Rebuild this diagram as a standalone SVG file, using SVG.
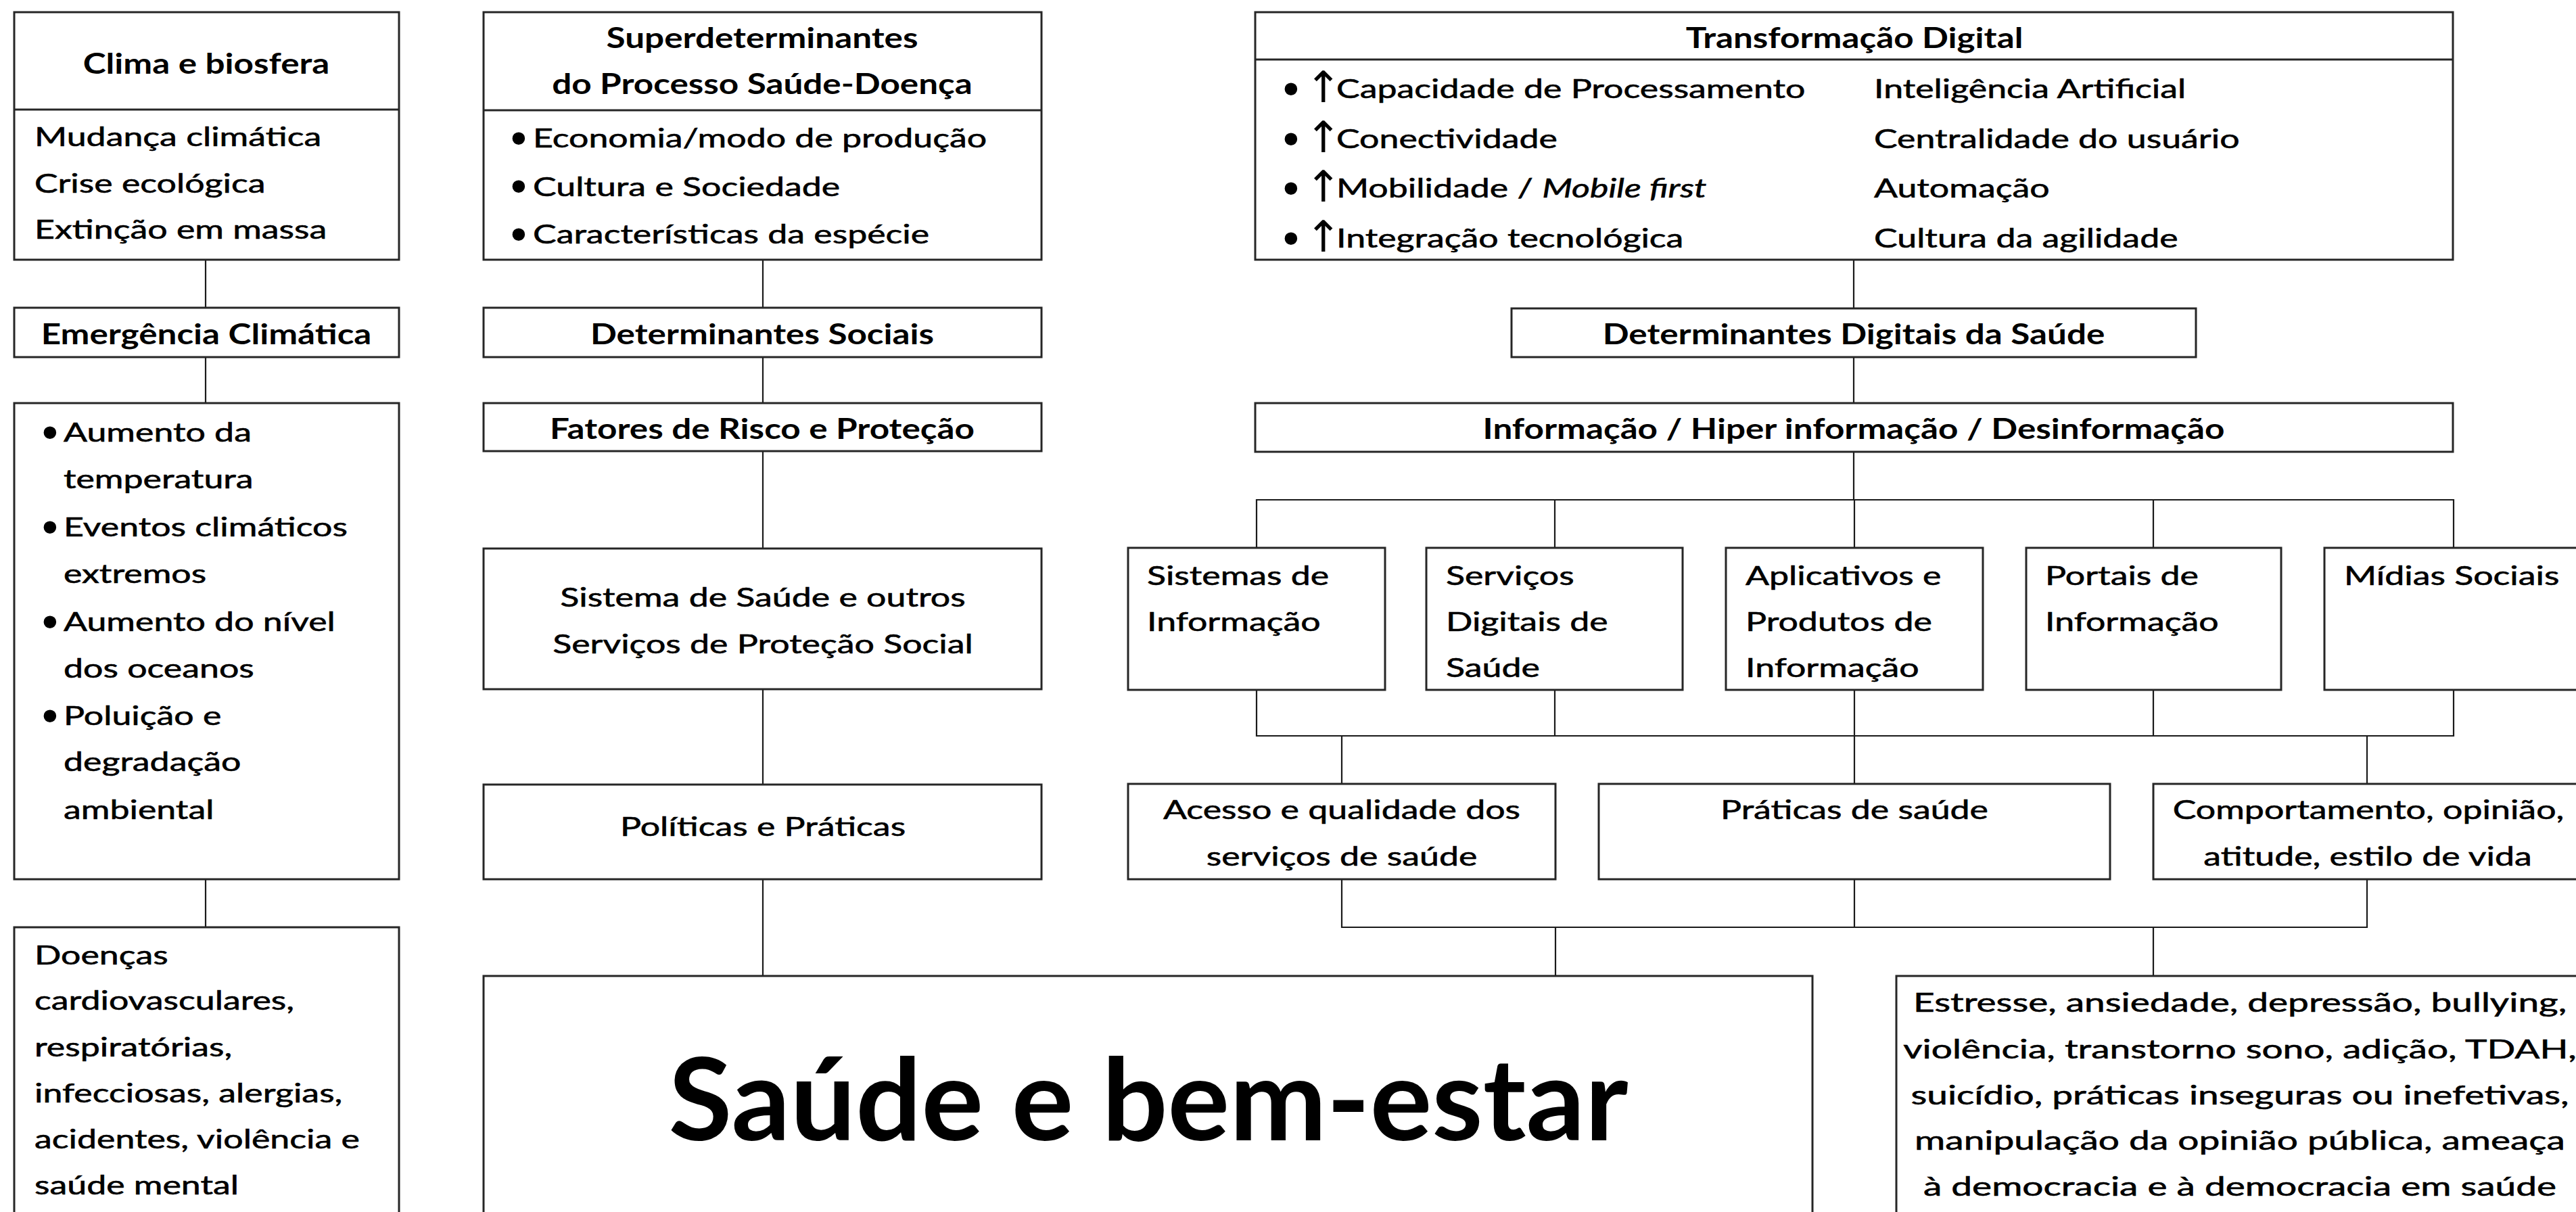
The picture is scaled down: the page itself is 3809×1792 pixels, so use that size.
<svg xmlns="http://www.w3.org/2000/svg" width="3809" height="1792" viewBox="0 0 3809 1792">
<style>
.box{fill:#fff;stroke:#262626;stroke-width:3}
.div{stroke:#262626;stroke-width:3;fill:none}
.con{stroke:#1a1a1a;stroke-width:2.2;fill:none}
text{fill:#000;font-family:Lato,"Liberation Sans",sans-serif}
.r{font-size:39px;stroke:#000;stroke-width:0.6}
.h{font-size:42px;font-weight:700}
.big{font-size:169px;font-weight:700}
.m{text-anchor:middle}
.it{font-style:italic}
.bul{font-family:"DejaVu Sans",sans-serif;font-size:64px}
.arr{font-family:"DejaVu Sans",sans-serif;font-size:64px}
</style>
<rect width="3809" height="1792" fill="#fff"/>

<g id="connectors">
<path class="con" d="M304 384V455M304 528V596M304 1300V1371"/>
<path class="con" d="M1128 384V455M1128 528V596M1128 667V811M1128 1019V1160M1128 1300V1443"/>
<path class="con" d="M2741 384V456M2741 528V596M2741 668V739"/>
<path class="con" d="M1858 810V739H3628V810M2299 739V810M2742 739V810M3184 739V810"/>
<path class="con" d="M1858 1020V1088H3628V1020M2299 1020V1088M2742 1020V1088M3184 1020V1088"/>
<path class="con" d="M1984 1088V1159M2742 1088V1159M3500 1088V1159"/>
<path class="con" d="M1984 1300V1371H3500V1300M2742 1300V1371"/>
<path class="con" d="M2300 1371V1443M3184 1371V1443"/>
</g>

<g id="clima">
<rect class="box" x="21" y="18" width="569" height="366"/>
<line class="div" x1="21" y1="162" x2="590" y2="162"/>
<text class="h m" transform="translate(305 109) scale(1.22 1)">Clima e biosfera</text>
<text class="r" transform="translate(51 216) scale(1.33 1)">Mudança climática</text>
<text class="r" transform="translate(51 285) scale(1.33 1)">Crise ecológica</text>
<text class="r" transform="translate(51 353) scale(1.33 1)">Extinção em massa</text>
</g>

<g id="emergencia">
<rect class="box" x="21" y="455" width="569" height="73"/>
<text class="h m" transform="translate(305 509) scale(1.22 1)">Emergência Climática</text>
</g>

<g id="aumento">
<rect class="box" x="21" y="596" width="569" height="704"/>
<text class="bul" x="55" y="664">•</text>
<text class="r" transform="translate(94 653) scale(1.33 1)">Aumento da</text>
<text class="r" transform="translate(94 722) scale(1.33 1)">temperatura</text>
<text class="bul" x="55" y="804">•</text>
<text class="r" transform="translate(94 793) scale(1.33 1)">Eventos climáticos</text>
<text class="r" transform="translate(94 862) scale(1.33 1)">extremos</text>
<text class="bul" x="55" y="944">•</text>
<text class="r" transform="translate(94 933) scale(1.33 1)">Aumento do nível</text>
<text class="r" transform="translate(94 1002) scale(1.33 1)">dos oceanos</text>
<text class="bul" x="55" y="1083">•</text>
<text class="r" transform="translate(94 1072) scale(1.33 1)">Poluição e</text>
<text class="r" transform="translate(94 1140) scale(1.33 1)">degradação</text>
<text class="r" transform="translate(94 1211) scale(1.33 1)">ambiental</text>
</g>

<g id="doencas">
<rect class="box" x="21" y="1371" width="569" height="440"/>
<text class="r" transform="translate(51 1426) scale(1.33 1)">Doenças</text>
<text class="r" transform="translate(51 1493) scale(1.33 1)">cardiovasculares,</text>
<text class="r" transform="translate(51 1562) scale(1.33 1)">respiratórias,</text>
<text class="r" transform="translate(51 1630) scale(1.33 1)">infecciosas, alergias,</text>
<text class="r" transform="translate(51 1698) scale(1.33 1)">acidentes, violência e</text>
<text class="r" transform="translate(51 1766) scale(1.33 1)">saúde mental</text>
</g>

<g id="superdeterminantes">
<rect class="box" x="715" y="18" width="825" height="366"/>
<line class="div" x1="715" y1="163" x2="1540" y2="163"/>
<text class="h m" transform="translate(1127 71) scale(1.22 1)">Superdeterminantes</text>
<text class="h m" transform="translate(1127 139) scale(1.22 1)">do Processo Saúde-Doença</text>
<text class="bul" x="748" y="229">•</text>
<text class="r" transform="translate(788 218) scale(1.33 1)">Economia/modo de produção</text>
<text class="bul" x="748" y="300">•</text>
<text class="r" transform="translate(788 290) scale(1.33 1)">Cultura e Sociedade</text>
<text class="bul" x="748" y="371">•</text>
<text class="r" transform="translate(788 360) scale(1.33 1)">Características da espécie</text>
</g>

<g id="det-sociais">
<rect class="box" x="715" y="455" width="825" height="73"/>
<text class="h m" transform="translate(1127 509) scale(1.22 1)">Determinantes Sociais</text>
</g>

<g id="fatores">
<rect class="box" x="715" y="596" width="825" height="71"/>
<text class="h m" transform="translate(1127 649) scale(1.22 1)">Fatores de Risco e Proteção</text>
</g>

<g id="sistema-saude">
<rect class="box" x="715" y="811" width="825" height="208"/>
<text class="r m" transform="translate(1128 897) scale(1.33 1)">Sistema de Saúde e outros</text>
<text class="r m" transform="translate(1128 966) scale(1.33 1)">Serviços de Proteção Social</text>
</g>

<g id="politicas">
<rect class="box" x="715" y="1160" width="825" height="140"/>
<text class="r m" transform="translate(1128 1236) scale(1.33 1)">Políticas e Práticas</text>
</g>

<g id="saude-bem-estar">
<rect class="box" x="715" y="1443" width="1965" height="400"/>
<text class="big m" transform="translate(1698 1686) scale(1.015 1)">Saúde e bem-estar</text>
</g>

<g id="transformacao">
<rect class="box" x="1856" y="18" width="1771" height="366"/>
<line class="div" x1="1856" y1="88" x2="3627" y2="88"/>
<text class="h m" transform="translate(2742 71) scale(1.22 1)">Transformação Digital</text>
<text class="bul" x="1890" y="156">•</text>
<text class="arr" x="1930" y="151">↑</text>
<text class="r" transform="translate(1976 145) scale(1.33 1)">Capacidade de Processamento</text>
<text class="bul" x="1890" y="230">•</text>
<text class="arr" x="1930" y="225">↑</text>
<text class="r" transform="translate(1976 219) scale(1.33 1)">Conectividade</text>
<text class="bul" x="1890" y="303">•</text>
<text class="arr" x="1930" y="298">↑</text>
<text class="r" transform="translate(1976 292) scale(1.33 1)">Mobilidade / <tspan class="it">Mobile first</tspan></text>
<text class="bul" x="1890" y="377">•</text>
<text class="arr" x="1930" y="372">↑</text>
<text class="r" transform="translate(1976 366) scale(1.33 1)">Integração tecnológica</text>
<text class="r" transform="translate(2771 145) scale(1.33 1)">Inteligência Artificial</text>
<text class="r" transform="translate(2771 219) scale(1.33 1)">Centralidade do usuário</text>
<text class="r" transform="translate(2771 292) scale(1.33 1)">Automação</text>
<text class="r" transform="translate(2771 366) scale(1.33 1)">Cultura da agilidade</text>
</g>

<g id="det-digitais">
<rect class="box" x="2235" y="456" width="1012" height="72"/>
<text class="h m" transform="translate(2741 509) scale(1.22 1)">Determinantes Digitais da Saúde</text>
</g>

<g id="informacao">
<rect class="box" x="1856" y="596" width="1771" height="72"/>
<text class="h m" transform="translate(2741 649) scale(1.22 1)">Informação / Hiper informação / Desinformação</text>
</g>

<g id="sistemas-info">
<rect class="box" x="1668" y="810" width="380" height="210"/>
<text class="r" transform="translate(1696 865) scale(1.33 1)">Sistemas de</text>
<text class="r" transform="translate(1696 933) scale(1.33 1)">Informação</text>
</g>

<g id="servicos-digitais">
<rect class="box" x="2109" y="810" width="379" height="210"/>
<text class="r" transform="translate(2138 865) scale(1.33 1)">Serviços</text>
<text class="r" transform="translate(2138 933) scale(1.33 1)">Digitais de</text>
<text class="r" transform="translate(2138 1001) scale(1.33 1)">Saúde</text>
</g>

<g id="aplicativos">
<rect class="box" x="2552" y="810" width="380" height="210"/>
<text class="r" transform="translate(2581 865) scale(1.33 1)">Aplicativos e</text>
<text class="r" transform="translate(2581 933) scale(1.33 1)">Produtos de</text>
<text class="r" transform="translate(2581 1001) scale(1.33 1)">Informação</text>
</g>

<g id="portais">
<rect class="box" x="2996" y="810" width="377" height="210"/>
<text class="r" transform="translate(3024 865) scale(1.33 1)">Portais de</text>
<text class="r" transform="translate(3024 933) scale(1.33 1)">Informação</text>
</g>

<g id="midias">
<rect class="box" x="3437" y="810" width="400" height="210"/>
<text class="r" transform="translate(3466 865) scale(1.33 1)">Mídias Sociais</text>
</g>

<g id="acesso">
<rect class="box" x="1668" y="1159" width="632" height="141"/>
<text class="r m" transform="translate(1984 1211) scale(1.33 1)">Acesso e qualidade dos</text>
<text class="r m" transform="translate(1984 1280) scale(1.33 1)">serviços de saúde</text>
</g>

<g id="praticas">
<rect class="box" x="2364" y="1159" width="756" height="141"/>
<text class="r m" transform="translate(2742 1211) scale(1.33 1)">Práticas de saúde</text>
</g>

<g id="comportamento">
<rect class="box" x="3184" y="1159" width="660" height="141"/>
<text class="r m" transform="translate(3502 1211) scale(1.33 1)">Comportamento, opinião,</text>
<text class="r m" transform="translate(3501 1280) scale(1.33 1)">atitude, estilo de vida</text>
</g>

<g id="estresse">
<rect class="box" x="2804" y="1443" width="1040" height="400"/>
<text class="r m" transform="translate(3312 1496) scale(1.41 1)">Estresse, ansiedade, depressão, bullying,</text>
<text class="r m" transform="translate(3312 1565) scale(1.41 1)">violência, transtorno sono, adição, TDAH,</text>
<text class="r m" transform="translate(3312 1633) scale(1.41 1)">suicídio, práticas inseguras ou inefetivas,</text>
<text class="r m" transform="translate(3312 1700) scale(1.41 1)">manipulação da opinião pública, ameaça</text>
<text class="r m" transform="translate(3312 1768) scale(1.41 1)">à democracia e à democracia em saúde</text>
</g>
</svg>
